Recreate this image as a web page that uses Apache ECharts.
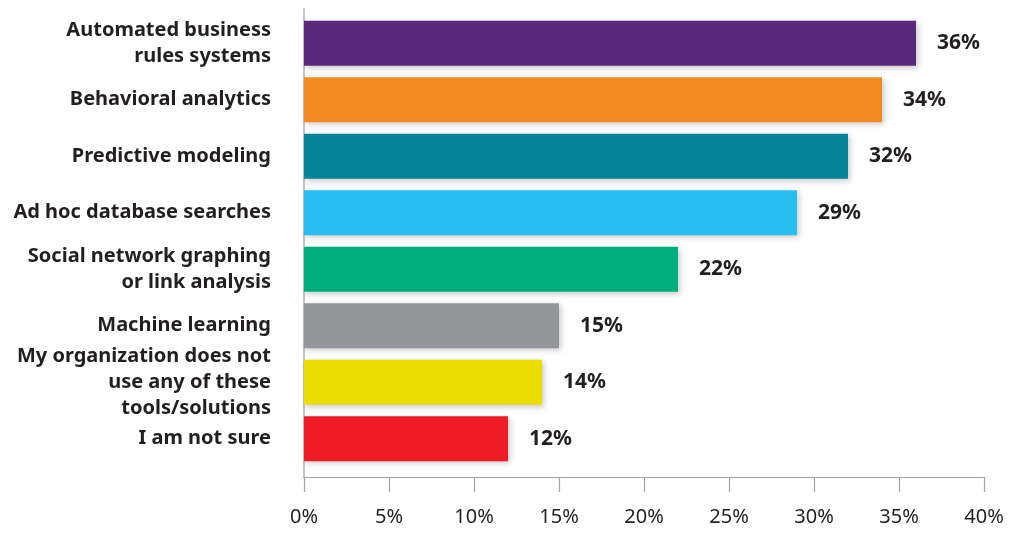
<!DOCTYPE html>
<html>
<head>
<meta charset="utf-8">
<style>
  html, body { margin: 0; padding: 0; background: #ffffff; }
  #chart { width: 1011px; height: 533px; }
</style>
<script src="https://cdn.jsdelivr.net/npm/echarts@6/dist/echarts.min.js"></script>
</head>
<body>
<div id="chart"></div>
<script>
// Survey answers, listed top to bottom
const categories = [
  'Automated business\nrules systems',
  'Behavioral analytics',
  'Predictive modeling',
  'Ad hoc database searches',
  'Social network graphing\nor link analysis',
  'Machine learning',
  'My organization does not\nuse any of these\ntools/solutions',
  'I am not sure'
];
// Share of respondents (%)
const values = [36, 34, 32, 29, 22, 15, 14, 12];
const barColors = ['#5b287c', '#f48a21', '#058599', '#28bdef', '#00ad7c', '#939598', '#ecdc00', '#ed1c24'];
const xTicks = [0, 5, 10, 15, 20, 25, 30, 35, 40];

const TEXT = '#231f20';
const FONT = '"Noto Sans", sans-serif';

const chart = echarts.init(document.getElementById('chart'), null, { renderer: 'canvas' });

chart.setOption({
  animation: false,
  backgroundColor: '#ffffff',
  grid: [
    { left: 304, right: 27, top: 15, bottom: 66, containLabel: false },
    // frame grid that carries the full-height left axis line
    { left: 304, right: 27, top: 9, bottom: 56, containLabel: false }
  ],
  xAxis: [
    {
      type: 'value', gridIndex: 0,
      min: xTicks[0], max: xTicks[xTicks.length - 1], interval: 5,
      offset: 10,
      splitLine: { show: false },
      axisLine: { show: true, lineStyle: { color: '#a3a3a3', width: 1.2 } },
      axisTick: { show: true, length: 15, lineStyle: { color: '#a3a3a3', width: 1.2 } },
      axisLabel: {
        margin: 30, color: TEXT, fontFamily: FONT, fontSize: 20,
        formatter: v => v + '%'
      }
    },
    { type: 'value', gridIndex: 1, show: false, min: 0, max: 40 }
  ],
  yAxis: [
    {
      type: 'category', gridIndex: 0, inverse: true, data: categories,
      axisLine: { show: false },
      axisTick: { show: false },
      axisLabel: {
        margin: 33, color: TEXT, fontFamily: FONT, fontWeight: 'bold',
        fontSize: 20, lineHeight: 26, align: 'right'
      }
    },
    {
      type: 'category', gridIndex: 1, data: [''],
      axisLine: { show: true, lineStyle: { color: '#c4c4c4', width: 2 } },
      axisTick: { show: false },
      axisLabel: { show: false }
    }
  ],
  series: [{
    type: 'bar',
    xAxisIndex: 0, yAxisIndex: 0,
    barWidth: 45,
    data: values.map((v, i) => ({
      value: v,
      itemStyle: {
        color: barColors[i],
        shadowColor: 'rgba(0,0,0,0.22)',
        shadowBlur: 6,
        shadowOffsetX: 2,
        shadowOffsetY: 2
      }
    })),
    label: {
      show: true, position: 'right', distance: 21,
      color: TEXT, fontFamily: FONT, fontWeight: 'bold', fontSize: 21,
      formatter: p => p.value + '%'
    }
  }]
});
</script>
</body>
</html>
